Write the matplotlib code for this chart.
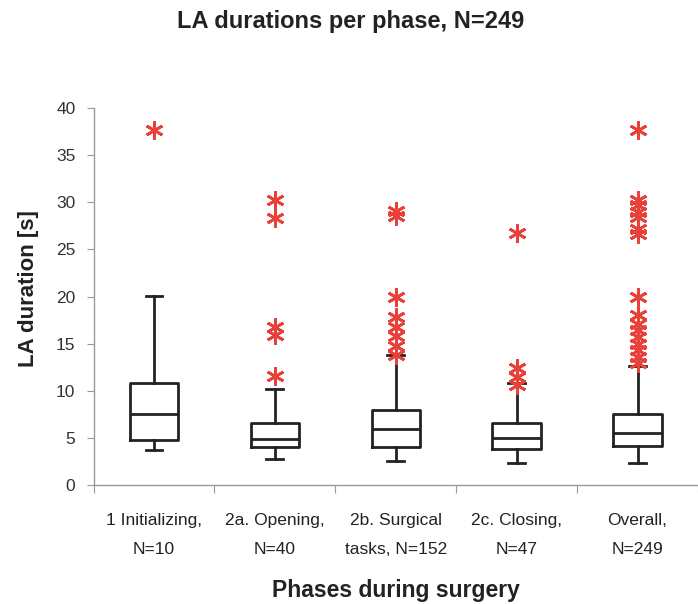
import numpy as np
import matplotlib
matplotlib.use("Agg")
import matplotlib.pyplot as plt

# values
labels = ["1 Initializing,\nN=10", "2a. Opening,\nN=40", "2b. Surgical\ntasks, N=152",
          "2c. Closing,\nN=47", "Overall,\nN=249"]
whislo = [3.7, 2.8, 2.6, 2.3, 2.3]
q1 = [4.75, 4.07, 4.07, 3.82, 4.13]
med = [7.5, 4.85, 5.9, 5.0, 5.55]
q3 = [10.85, 6.6, 7.95, 6.6, 7.5]
whishi = [20.1, 10.2, 13.8, 10.85, 12.65]
fliers = [
    [37.7],
    [30.3, 28.3, 16.8, 15.9, 11.55],
    [29.05, 28.6, 19.97, 17.85, 16.8, 15.8, 14.74, 13.8],
    [26.7, 12.37, 11.5, 10.6],
    [37.7, 30.3, 29.7, 29.0, 28.45, 27.2, 26.6, 19.97, 18.0, 17.1, 16.4,
     15.7, 15.0, 14.3, 13.6, 12.9],
]

stats = []
for i in range(len(labels)):
    stats.append(dict(med=med[i], q1=q1[i], q3=q3[i], whislo=whislo[i],
                      whishi=whishi[i], fliers=fliers[i], label=labels[i]))

plt.rcParams['font.family'] = ['Liberation Sans', 'DejaVu Sans']

fig = plt.figure(figsize=(6.98, 6.04), dpi=100)
ax = fig.add_axes([0.134, 0.197, 0.866, 0.624])

dark = '#222222'
line = dict(color=dark, linewidth=2)
ax.bxp(stats, positions=range(1, 6), widths=0.4, showfliers=True,
       boxprops=line, whiskerprops=line, capprops=line, medianprops=line,
       capwidths=0.14,
       flierprops=dict(marker=(6, 2, 0), markersize=13, markeredgecolor='#e8403a',
                       markerfacecolor='#e8403a', markeredgewidth=2, linestyle='none'))

ax.set_xlim(0.5, 5.43)
ax.set_ylim(0, 40)
ax.set_yticks(np.arange(0, 41, 5))
ax.set_yticklabels([str(v) for v in range(0, 41, 5)], fontsize=12.5, color='#333333')

ax.set_xticks(np.arange(0.5, 5.6, 1.0))
ax.set_xticklabels([])
ax.set_xticks(range(1, 6), minor=True)
ax.set_xticklabels(labels, minor=True, fontsize=12.5, color='#222222', linespacing=2.15)
ax.tick_params(axis='x', which='minor', length=0, pad=20)
ax.tick_params(axis='x', which='major', length=6, color='#999999')
ax.tick_params(axis='y', length=5, color='#999999', pad=8)

for s in ['top', 'right']:
    ax.spines[s].set_visible(False)
for s in ['left', 'bottom']:
    ax.spines[s].set_color('#999999')
    ax.spines[s].set_linewidth(1)

ax.set_ylabel("LA duration [s]", fontsize=16, fontweight='bold', color='#222222')
ax.yaxis.set_label_coords(-0.09, 0.52)
ax.set_xlabel("Phases during surgery", fontsize=16.5, fontweight='bold', color='#222222', labelpad=16)
fig.text(0.503, 0.965, "LA durations per phase, N=249", ha='center', va='center',
         fontsize=17, fontweight='bold', color='#222222')

fig.savefig("out.png", dpi=100)
